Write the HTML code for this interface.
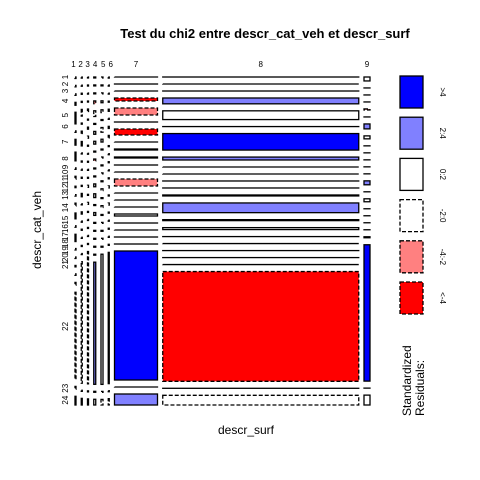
<!DOCTYPE html>
<html><head><meta charset="utf-8"><style>
body{margin:0;background:#fff;}
svg{display:block;font-family:"Liberation Sans",sans-serif;}
</style></head><body>
<svg id="chart" width="480" height="480" viewBox="0 0 480 480">
<rect width="480" height="480" fill="#fff"/>
<text x="265" y="38" text-anchor="middle" font-size="13" font-weight="bold">Test du chi2 entre descr_cat_veh et descr_surf</text>
<text x="246" y="434" text-anchor="middle" font-size="12">descr_surf</text>
<text transform="translate(41,230) rotate(-90)" text-anchor="middle" font-size="12">descr_cat_veh</text>
<g id="cells"></g>
<g id="xlabels"></g>
<g id="ylabels"></g>
<g id="legend"></g>
<text transform="translate(411,416) rotate(-90)" font-size="12">Standardized</text>
<text transform="translate(424,416) rotate(-90)" font-size="12">Residuals:</text>
</svg>
<script>
const surfCategories=["1","2","3","4","5","6","7","8","9"];
const vehCategories=["1","2","3","4","5","6","7","8","9","10","11","12","13","14","15","16","17","18","19","20","21","22","23","24"];
const surfWidths=[1,1,1,2,2,1,43,196,6];
const col1Heights=[1,1,1,2,8,1,4,6,1,2,1,1,2,4,1,5,1,1,1,1,2,60,2,6];
const col2Heights=[1,1,1,1,6,1,3,4,1,1,1,1,1,3,1,2,1,1,1,1,1,110,1,6];
const col3Heights=[1,1,1,1,3,1,2,2,1,1,1,1,1,2,1,2,1,1,1,1,1,130,1,6];
const col4Heights=[1,1,1,3,6,1,3,3,1,2,1,1,3,4,1,3,1,1,1,1,1,128,1,6];
const col5Heights=[1,1,1,2,3,1,5,3,1,1,1,1,1,2,1,2,1,1,1,1,1,138,1,6];
const col6Heights=[1,1,1,1,2,1,2,3,1,1,1,1,1,2,1,2,1,1,1,1,1,125,1,6];
const col7Heights=[0,0,0,3,7,0,6,0,1,1,0,0,7,0,0,0,2,0,0,0,0,129,0,11];
const col8Heights=[0,0,0,6,9,0,17,3,0,0,0,0,1,10,1,2,0,0,0,0,0,113,0,10];
const col9Heights=[4,0,0,0,1,0,5,3,0,0,0,0,0,4,0,3,0,0,0,0,1,138,0,10];
const col1Resid=["dw","dw","dw","w","w","dw","w","w","dw","dw","w","dw","dw","w","dw","w","dw","dw","w","dw","dw","dw","dw","w"];
const col2Resid=["dw","dw","w","w","dw","w","dw","w","dw","w","dw","w","w","w","dw","w","dw","w","dw","w","dw","dw","dw","w"];
const col3Resid=["dw","w","dw","w","dw","w","w","dw","w","dw","w","dw","w","dw","w","dw","w","dw","w","dw","w","dw","w","w"];
const col4Resid=["w","w","w","p","dw","w","w","w","w","p","w","w","w","w","w","w","w","w","w","w","w","lb","w","w"];
const col5Resid=["dw","w","dw","w","dw","w","dw","w","w","dw","w","dw","w","dw","w","dw","w","dw","w","dw","w","w","dw","dw"];
const col6Resid=["dw","dw","dw","w","w","dw","w","dw","w","dw","w","dw","w","dw","w","dw","w","dw","w","dw","w","w","dw","dw"];
const col7Resid=["dw","w","dw","r","p","w","r","p","w","w","w","dw","p","dw","p","dw","w","w","dw","w","w","b","p","lb"];
const col8Resid=["w","dw","w","lb","w","w","b","lb","dw","dw","w","w","w","lb","w","w","w","dw","w","w","dw","r","w","dw"];
const col9Resid=["w","w","w","w","p","w","lb","w","w","w","w","w","w","lb","w","w","w","w","w","w","w","b","w","w"];
const legendCodes=["b","lb","w","dw","p","r"];
const legendLabels=[">4","2:4","0:2","-2:0","-4:-2","<-4"];
const yLabelCenters=["1","2","3","4","5","6","7","8","9","10","11","12","13","14","15","16","17","18","19","20","21","22","23","24"];

const heights=[col1Heights,col2Heights,col3Heights,col4Heights,col5Heights,col6Heights,col7Heights,col8Heights,col9Heights];
const resids=[col1Resid,col2Resid,col3Resid,col4Resid,col5Resid,col6Resid,col7Resid,col8Resid,col9Resid];
const NS="http://www.w3.org/2000/svg";
const X0=75,X1=370,Y0=77,Y1=405,XG=5.25;
const fills={b:"#0000ff",lb:"#8080ff",w:"#ffffff",dw:"#ffffff",p:"#ff8080",r:"#ff0000"};
const dashed={b:false,lb:false,w:false,dw:true,p:true,r:true};
function xScale(){const s=surfWidths.reduce((a,b)=>a+b,0);return (X1-X0-XG*(surfWidths.length-1))/s;}
const kx=xScale();
const cells=document.getElementById('cells');
let x=X0;
const colCenters=[];
for(let c=0;c<surfCategories.length;c++){
  const w=surfWidths[c]*kx;
  colCenters.push(x+w/2);
  const hs=heights[c];
  const sum=hs.reduce((a,b)=>a+b,0);
  const gap=7;
  const ky=(Y1-Y0-gap*(hs.length-1))/sum;
  let y=Y0;
  for(let r=0;r<hs.length;r++){
    const h=hs[r]*ky;
    const code=resids[c][r];
    const el=document.createElementNS(NS,'rect');
    el.setAttribute('x',x);el.setAttribute('y',y);
    el.setAttribute('width',Math.max(w,0.5));el.setAttribute('height',Math.max(h,0.01));
    el.setAttribute('fill',fills[code]);el.setAttribute('stroke','#000');
    el.setAttribute('stroke-width','1.3');
    if(dashed[code])el.setAttribute('stroke-dasharray','4 2');
    
    
    cells.appendChild(el);
    y+=h+gap;
  }
  x+=w+XG;
}
const xl=document.getElementById('xlabels');
for(let c=0;c<surfCategories.length;c++){
  const t=document.createElementNS(NS,'text');
  t.setAttribute('x',colCenters[c]+(c<6?(c-2.5)*0.8:0));t.setAttribute('y',67);
  t.setAttribute('font-size','8');t.setAttribute('text-anchor','middle');
  t.textContent=surfCategories[c];
  
  
  xl.appendChild(t);
}
const yl=document.getElementById('ylabels');
{
  const hs=col8Heights,sum=hs.reduce((a,b)=>a+b,0),gap=7,ky=(Y1-Y0-gap*(hs.length-1))/sum;
  let y=Y0;
  for(let r=0;r<hs.length;r++){
    const h=hs[r]*ky;const cy=y+h/2;
    const t=document.createElementNS(NS,'text');
    t.setAttribute('transform','translate(68,'+cy+') rotate(-90)');
    t.setAttribute('font-size','8');t.setAttribute('text-anchor','middle');
    t.textContent=yLabelCenters[r];
    
    
    yl.appendChild(t);
    y+=h+gap;
  }
}
const lg=document.getElementById('legend');
for(let i=0;i<legendCodes.length;i++){
  const y=76+i*41.2;
  const code=legendCodes[i];
  const el=document.createElementNS(NS,'rect');
  el.setAttribute('x',400);el.setAttribute('y',y);el.setAttribute('width',23);el.setAttribute('height',32);
  el.setAttribute('fill',fills[code]);el.setAttribute('stroke','#000');el.setAttribute('stroke-width','1.3');
  if(dashed[code])el.setAttribute('stroke-dasharray','4 2');
  
  
  lg.appendChild(el);
  const t=document.createElementNS(NS,'text');
  t.setAttribute('transform','translate(440,'+(y+16)+') rotate(90)');
  t.setAttribute('font-size','8');t.setAttribute('text-anchor','middle');
  t.textContent=legendLabels[i];
  
  
  lg.appendChild(t);
}
</script>
</body></html>
